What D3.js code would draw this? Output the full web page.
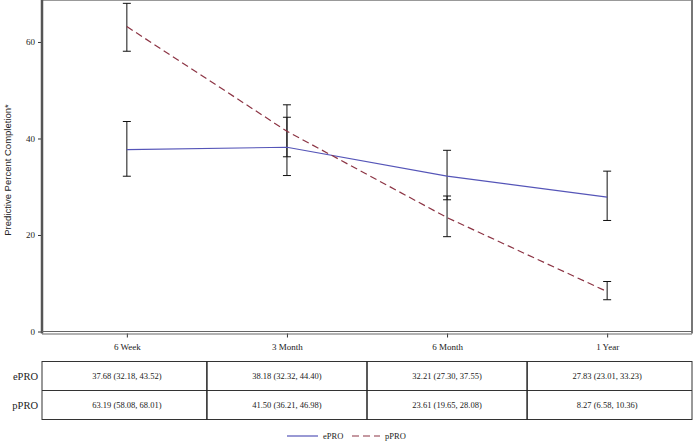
<!DOCTYPE html>
<html><head><meta charset="utf-8">
<script src="https://cdn.jsdelivr.net/npm/d3@7"></script>
<style>body{margin:0;background:#fff}svg{display:block}</style>
</head><body><svg id="c" width="695" height="442"></svg>
<script>
const categories = ["6 Week", "3 Month", "6 Month", "1 Year"];
const ePRO = [37.68, 38.18, 32.21, 27.83];
const ePROlo = [32.18, 32.32, 27.30, 23.01];
const ePROhi = [43.52, 44.40, 37.55, 33.23];
const pPRO = [63.19, 41.50, 23.61, 8.27];
const pPROlo = [58.08, 36.21, 19.65, 6.58];
const pPROhi = [68.01, 46.98, 28.08, 10.36];
const yTicks = [0, 20, 40, 60];
const seriesNames = ["ePRO", "pPRO"];

const svg = d3.select("#c");
const L = 42, R = 692, T = 0, B = 331.5;
const x = d3.scalePoint().domain(categories).range([L, R]).padding(0.53);
const y = d3.scaleLinear().domain([0, 68.7]).range([B, T]);
const colors = {ePRO: "#5555b8", pPRO: "#8c3444"};
const serif = "'Liberation Serif', 'Times New Roman', serif";

// frame
svg.append("rect").attr("x", L).attr("y", 0.5).attr("width", R - L).attr("height", B - 0.5)
  .attr("fill", "none").attr("stroke", "#999").attr("stroke-width", 1);
svg.append("line").attr("x1", R).attr("x2", R).attr("y1", 0).attr("y2", B + 2)
  .attr("stroke", "#777").attr("stroke-width", 2);

// y axis
const ya = svg.append("g").attr("transform", `translate(${L},0)`)
  .call(d3.axisLeft(y).tickValues(yTicks).tickSize(4).tickFormat(d3.format("d")));
ya.select(".domain").remove();
ya.selectAll("line").attr("stroke", "#333");
ya.selectAll("text").attr("font-family", serif).attr("font-size", 9).attr("fill", "#222");
svg.append("line").attr("x1", L).attr("x2", L).attr("y1", 0).attr("y2", B + 2)
  .attr("stroke", "#555").attr("stroke-width", 2.5);

// x axis (double line)
const xa = svg.append("g").attr("transform", `translate(0,${B + 2})`)
  .call(d3.axisBottom(x).tickSize(4).tickPadding(6));
xa.select(".domain").remove();
xa.selectAll("line").attr("stroke", "#333");
xa.selectAll("text").attr("font-family", serif).attr("font-size", 9).attr("fill", "#222");
svg.append("line").attr("x1", L).attr("x2", R).attr("y1", B).attr("y2", B).attr("stroke", "#666").attr("stroke-width", 1.2);
svg.append("line").attr("x1", L).attr("x2", R).attr("y1", B + 2.5).attr("y2", B + 2.5).attr("stroke", "#666").attr("stroke-width", 1.2);

// y label
svg.append("text").attr("transform", `translate(11,${170}) rotate(-90)`)
  .attr("text-anchor", "middle").attr("font-family", "'Liberation Sans', Arial, sans-serif")
  .attr("font-size", 9.5).attr("fill", "#222").text("Predictive Percent Completion*");

// error bars
const series = [
  {name: "ePRO", v: ePRO, lo: ePROlo, hi: ePROhi},
  {name: "pPRO", v: pPRO, lo: pPROlo, hi: pPROhi}
];
series.forEach(s => {
  const g = svg.append("g");
  categories.forEach((c, i) => {
    const cx = x(c);
    g.append("line").attr("x1", cx).attr("x2", cx).attr("y1", y(s.lo[i])).attr("y2", y(s.hi[i])).attr("stroke", "#111").attr("stroke-width", 1);
    g.append("line").attr("x1", cx - 4).attr("x2", cx + 4).attr("y1", y(s.lo[i])).attr("y2", y(s.lo[i])).attr("stroke", "#111").attr("stroke-width", 1);
    g.append("line").attr("x1", cx - 4).attr("x2", cx + 4).attr("y1", y(s.hi[i])).attr("y2", y(s.hi[i])).attr("stroke", "#111").attr("stroke-width", 1);
  });
});
const line = d3.line().x((d, i) => x(categories[i])).y(d => y(d));
svg.append("path").attr("d", line(ePRO)).attr("fill", "none").attr("stroke", colors.ePRO).attr("stroke-width", 1.2);
svg.append("path").attr("d", line(pPRO)).attr("fill", "none").attr("stroke", colors.pPRO).attr("stroke-width", 1.2).attr("stroke-dasharray", "7,4");

// table
const tT = 361.5, tM = 390.5, tB = 419.5;
const fmt = v => v.toFixed(2);
const tbl = svg.append("g");
const bounds = [L, ...categories.slice(0, -1).map((c, i) => (x(c) + x(categories[i + 1])) / 2), R];
tbl.append("rect").attr("x", L).attr("y", tT).attr("width", R - L).attr("height", tB - tT).attr("fill", "none").attr("stroke", "#333").attr("stroke-width", 1);
tbl.append("line").attr("x1", L).attr("x2", R).attr("y1", tM).attr("y2", tM).attr("stroke", "#333");
bounds.slice(1, -1).forEach(b => tbl.append("line").attr("x1", b).attr("x2", b).attr("y1", tT).attr("y2", tB).attr("stroke", "#222").attr("stroke-width", 1.5));
series.forEach((s, r) => {
  const cy = r === 0 ? (tT + tM) / 2 : (tM + tB) / 2;
  tbl.append("text").attr("x", 38).attr("y", cy).attr("dy", "0.35em").attr("text-anchor", "end")
    .attr("font-family", serif).attr("font-size", 10.5).attr("fill", "#222").text(s.name);
  categories.forEach((c, i) => {
    tbl.append("text").attr("x", x(c)).attr("y", cy).attr("dy", "0.35em").attr("text-anchor", "middle")
      .attr("font-family", serif).attr("font-size", 8.5).attr("fill", "#222")
      .text(`${fmt(s.v[i])} (${fmt(s.lo[i])}, ${fmt(s.hi[i])})`);
  });
});

// legend
const lg = svg.append("g");
const ly = 436;
lg.append("line").attr("x1", 287).attr("x2", 318).attr("y1", ly).attr("y2", ly).attr("stroke", colors.ePRO).attr("stroke-width", 1.2);
lg.append("text").attr("x", 323).attr("y", ly).attr("dy", "0.35em").attr("font-family", serif).attr("font-size", 8.5).attr("fill", "#222").text(seriesNames[0]);
lg.append("line").attr("x1", 352).attr("x2", 380).attr("y1", ly).attr("y2", ly).attr("stroke", colors.pPRO).attr("stroke-width", 1.2).attr("stroke-dasharray", "7,4");
lg.append("text").attr("x", 385).attr("y", ly).attr("dy", "0.35em").attr("font-family", serif).attr("font-size", 8.5).attr("fill", "#222").text(seriesNames[1]);
</script></body></html>
